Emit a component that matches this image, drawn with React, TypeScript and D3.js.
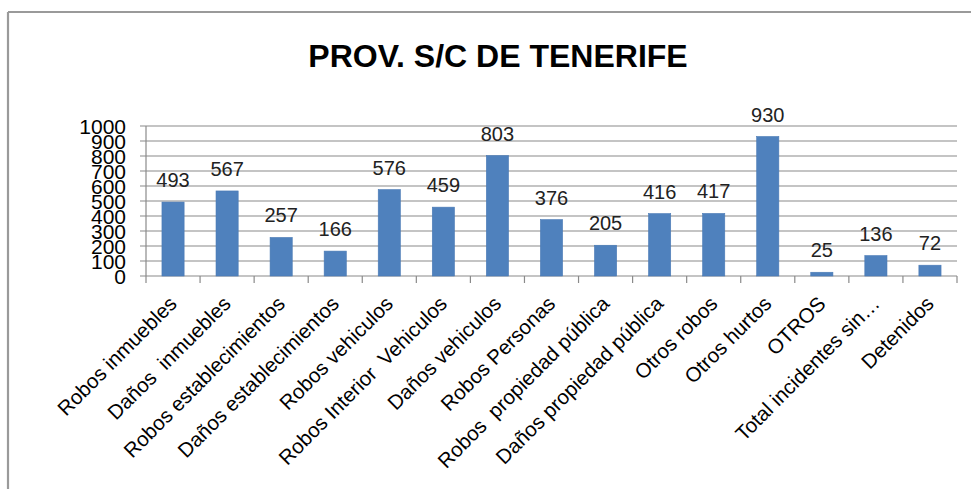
import React from "react";
import * as d3 from "d3";

const categories = [
  "Robos inmuebles",
  "Daños  inmuebles",
  "Robos establecimientos",
  "Daños establecimientos",
  "Robos vehiculos",
  "Robos Interior  Vehiculos",
  "Daños vehiculos",
  "Robos Personas",
  "Robos  propiedad pública",
  "Daños propiedad pública",
  "Otros robos",
  "Otros hurtos",
  "OTROS",
  "Total incidentes sin…",
  "Detenidos",
];
const values = [493, 567, 257, 166, 576, 459, 803, 376, 205, 416, 417, 930, 25, 136, 72];
const yTicks = [0, 100, 200, 300, 400, 500, 600, 700, 800, 900, 1000];
const title = "PROV. S/C DE TENERIFE";

const W = 971;
const H = 489;
const plot = { left: 146, right: 957, top: 126, bottom: 276 };
const font = "'Liberation Sans', Arial, sans-serif";

export default function App() {
  const x = d3
    .scaleBand<string>()
    .domain(categories)
    .range([plot.left, plot.right])
    .paddingInner(0.59)
    .paddingOuter(0.295);
  const xb = d3.scaleBand<string>().domain(categories).range([plot.left, plot.right]);
  const y = d3.scaleLinear().domain([0, 1000]).range([plot.bottom, plot.top]);
  const grid = "#8a8a8a";

  return (
    <svg
      width={W}
      height={H}
      style={{ position: "absolute", left: 0, top: 0, background: "#fff" }}
      fontFamily={font}
    >
      <rect x={0} y={0} width={W} height={H} fill="#fff" />
      {/* frame */}
      <line x1={8} x2={W} y1={12} y2={12} stroke="#9a9a9a" strokeWidth={2.2} />
      <line x1={8} x2={8} y1={12} y2={H} stroke="#9a9a9a" strokeWidth={2.2} />

      <text x={498} y={67} textAnchor="middle" fontSize={32} fontWeight="bold" fill="#000">
        {title}
      </text>

      {/* gridlines and y ticks */}
      {yTicks.map((t) => (
        <g key={t}>
          <line x1={plot.left - 6} x2={plot.right} y1={y(t)} y2={y(t)} stroke={grid} strokeWidth={1.2} />
          <text x={126} y={y(t)} dy="0.36em" textAnchor="end" fontSize={21} fill="#000">
            {t}
          </text>
        </g>
      ))}
      {/* y axis */}
      <line x1={plot.left} x2={plot.left} y1={plot.top} y2={plot.bottom} stroke={grid} strokeWidth={1.2} />
      {/* x ticks */}
      {categories.concat(["__end"]).map((c, i) => {
        const xx = i < categories.length ? (xb(c) as number) : plot.right;
        return <line key={i} x1={xx} x2={xx} y1={plot.bottom} y2={plot.bottom + 7} stroke={grid} strokeWidth={1.2} />;
      })}

      {/* bars */}
      {categories.map((c, i) => (
        <rect
          key={c}
          x={x(c)}
          y={y(values[i])}
          width={x.bandwidth()}
          height={plot.bottom - y(values[i])}
          fill="#4f81bd"
          stroke="#4a7ab5"
          strokeWidth={0.6}
        />
      ))}

      {/* data labels */}
      {categories.map((c, i) => (
        <text
          key={c}
          x={(x(c) as number) + x.bandwidth() / 2}
          y={y(values[i]) - 15}
          textAnchor="middle"
          fontSize={20}
          fill="#222"
        >
          {values[i]}
        </text>
      ))}

      {/* x labels */}
      {categories.map((c) => {
        const cx = (xb(c) as number) + xb.bandwidth() / 2 + 5;
        const cy = 305;
        return (
          <text
            key={c}
            transform={`translate(${cx},${cy}) rotate(-45)`}
            textAnchor="end"
            fontSize={20.5}
            fill="#000"
            style={{ whiteSpace: "pre" }}
          >
            {c}
          </text>
        );
      })}
    </svg>
  );
}
